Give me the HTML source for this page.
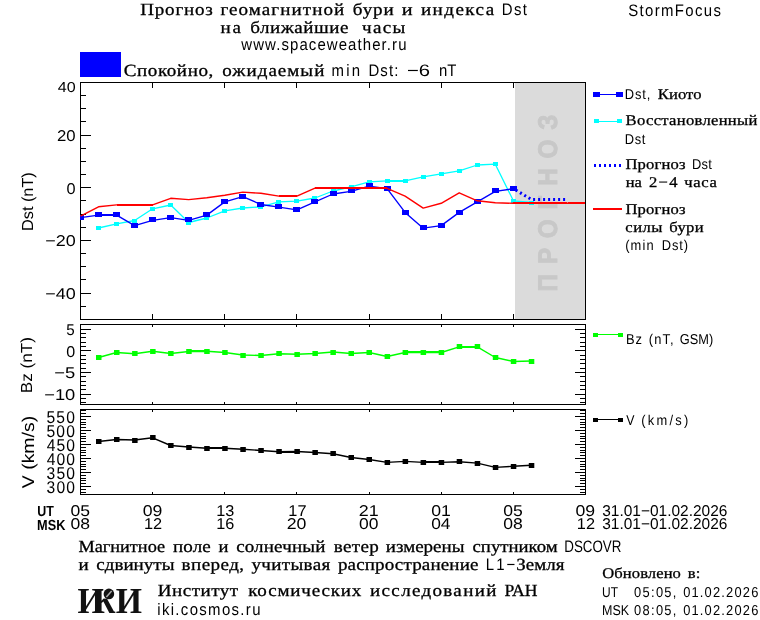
<!DOCTYPE html>
<html lang="ru">
<head>
<meta charset="utf-8">
<title>StormFocus — Прогноз геомагнитной бури и индекса Dst</title>
<style>
html,body{margin:0;padding:0;background:#fff;}
body{width:760px;height:620px;overflow:hidden;}
svg{display:block;text-rendering:geometricPrecision;}
</style>
</head>
<body>
<svg width="760" height="620" viewBox="0 0 760 620">
<rect x="0" y="0" width="760" height="620" fill="#ffffff"/>
<rect x="515" y="83" width="70.5" height="236" fill="#dbdbdb" shape-rendering="crispEdges"/>
<text transform="translate(556.80,291.38) rotate(-90) scale(0.9,1)" x="0" y="0" font-family='"Liberation Sans", "DejaVu Sans", sans-serif' font-size="27" font-weight="bold" fill="#c8c8c8" stroke="#c8c8c8" stroke-width="0.9" xml:space="preserve" textLength="196.65" lengthAdjust="spacing">ПРОГНОЗ</text>
<rect x="80" y="52" width="41" height="25" fill="#0000ff" shape-rendering="crispEdges"/>
<g shape-rendering="crispEdges">
<rect x="80.5" y="82.5" width="505.0" height="237.0" fill="none" stroke="#000" stroke-width="1"/>
<line x1="152.5" y1="82.5" x2="152.5" y2="88.0" stroke="#000" stroke-width="1"/>
<line x1="152.5" y1="319.5" x2="152.5" y2="314.0" stroke="#000" stroke-width="1"/>
<line x1="224.5" y1="82.5" x2="224.5" y2="88.0" stroke="#000" stroke-width="1"/>
<line x1="224.5" y1="319.5" x2="224.5" y2="314.0" stroke="#000" stroke-width="1"/>
<line x1="296.5" y1="82.5" x2="296.5" y2="88.0" stroke="#000" stroke-width="1"/>
<line x1="296.5" y1="319.5" x2="296.5" y2="314.0" stroke="#000" stroke-width="1"/>
<line x1="369.5" y1="82.5" x2="369.5" y2="88.0" stroke="#000" stroke-width="1"/>
<line x1="369.5" y1="319.5" x2="369.5" y2="314.0" stroke="#000" stroke-width="1"/>
<line x1="441.5" y1="82.5" x2="441.5" y2="88.0" stroke="#000" stroke-width="1"/>
<line x1="441.5" y1="319.5" x2="441.5" y2="314.0" stroke="#000" stroke-width="1"/>
<line x1="513.5" y1="82.5" x2="513.5" y2="88.0" stroke="#000" stroke-width="1"/>
<line x1="513.5" y1="319.5" x2="513.5" y2="314.0" stroke="#000" stroke-width="1"/>
<rect x="80.5" y="324.5" width="505.0" height="80.0" fill="none" stroke="#000" stroke-width="1"/>
<line x1="152.5" y1="324.5" x2="152.5" y2="327.0" stroke="#000" stroke-width="1"/>
<line x1="152.5" y1="404.5" x2="152.5" y2="402.0" stroke="#000" stroke-width="1"/>
<line x1="224.5" y1="324.5" x2="224.5" y2="327.0" stroke="#000" stroke-width="1"/>
<line x1="224.5" y1="404.5" x2="224.5" y2="402.0" stroke="#000" stroke-width="1"/>
<line x1="296.5" y1="324.5" x2="296.5" y2="327.0" stroke="#000" stroke-width="1"/>
<line x1="296.5" y1="404.5" x2="296.5" y2="402.0" stroke="#000" stroke-width="1"/>
<line x1="369.5" y1="324.5" x2="369.5" y2="327.0" stroke="#000" stroke-width="1"/>
<line x1="369.5" y1="404.5" x2="369.5" y2="402.0" stroke="#000" stroke-width="1"/>
<line x1="441.5" y1="324.5" x2="441.5" y2="327.0" stroke="#000" stroke-width="1"/>
<line x1="441.5" y1="404.5" x2="441.5" y2="402.0" stroke="#000" stroke-width="1"/>
<line x1="513.5" y1="324.5" x2="513.5" y2="327.0" stroke="#000" stroke-width="1"/>
<line x1="513.5" y1="404.5" x2="513.5" y2="402.0" stroke="#000" stroke-width="1"/>
<rect x="80.5" y="409.5" width="505.0" height="85.0" fill="none" stroke="#000" stroke-width="1"/>
<line x1="152.5" y1="409.5" x2="152.5" y2="412.0" stroke="#000" stroke-width="1"/>
<line x1="152.5" y1="494.5" x2="152.5" y2="492.0" stroke="#000" stroke-width="1"/>
<line x1="224.5" y1="409.5" x2="224.5" y2="412.0" stroke="#000" stroke-width="1"/>
<line x1="224.5" y1="494.5" x2="224.5" y2="492.0" stroke="#000" stroke-width="1"/>
<line x1="296.5" y1="409.5" x2="296.5" y2="412.0" stroke="#000" stroke-width="1"/>
<line x1="296.5" y1="494.5" x2="296.5" y2="492.0" stroke="#000" stroke-width="1"/>
<line x1="369.5" y1="409.5" x2="369.5" y2="412.0" stroke="#000" stroke-width="1"/>
<line x1="369.5" y1="494.5" x2="369.5" y2="492.0" stroke="#000" stroke-width="1"/>
<line x1="441.5" y1="409.5" x2="441.5" y2="412.0" stroke="#000" stroke-width="1"/>
<line x1="441.5" y1="494.5" x2="441.5" y2="492.0" stroke="#000" stroke-width="1"/>
<line x1="513.5" y1="409.5" x2="513.5" y2="412.0" stroke="#000" stroke-width="1"/>
<line x1="513.5" y1="494.5" x2="513.5" y2="492.0" stroke="#000" stroke-width="1"/>
<line x1="80.5" y1="306.5" x2="86.0" y2="306.5" stroke="#000" stroke-width="1"/>
<line x1="80.5" y1="293.5" x2="91.0" y2="293.5" stroke="#000" stroke-width="1"/>
<line x1="80.5" y1="279.5" x2="86.0" y2="279.5" stroke="#000" stroke-width="1"/>
<line x1="80.5" y1="266.5" x2="86.0" y2="266.5" stroke="#000" stroke-width="1"/>
<line x1="80.5" y1="253.5" x2="86.0" y2="253.5" stroke="#000" stroke-width="1"/>
<line x1="80.5" y1="240.5" x2="91.0" y2="240.5" stroke="#000" stroke-width="1"/>
<line x1="80.5" y1="227.5" x2="86.0" y2="227.5" stroke="#000" stroke-width="1"/>
<line x1="80.5" y1="214.5" x2="86.0" y2="214.5" stroke="#000" stroke-width="1"/>
<line x1="80.5" y1="200.5" x2="86.0" y2="200.5" stroke="#000" stroke-width="1"/>
<line x1="80.5" y1="187.5" x2="91.0" y2="187.5" stroke="#000" stroke-width="1"/>
<line x1="80.5" y1="174.5" x2="86.0" y2="174.5" stroke="#000" stroke-width="1"/>
<line x1="80.5" y1="161.5" x2="86.0" y2="161.5" stroke="#000" stroke-width="1"/>
<line x1="80.5" y1="148.5" x2="86.0" y2="148.5" stroke="#000" stroke-width="1"/>
<line x1="80.5" y1="135.5" x2="91.0" y2="135.5" stroke="#000" stroke-width="1"/>
<line x1="80.5" y1="121.5" x2="86.0" y2="121.5" stroke="#000" stroke-width="1"/>
<line x1="80.5" y1="108.5" x2="86.0" y2="108.5" stroke="#000" stroke-width="1"/>
<line x1="80.5" y1="95.5" x2="86.0" y2="95.5" stroke="#000" stroke-width="1"/>
<line x1="80.5" y1="402.5" x2="86.0" y2="402.5" stroke="#000" stroke-width="1"/>
<line x1="585.5" y1="402.5" x2="580.0" y2="402.5" stroke="#000" stroke-width="1"/>
<line x1="80.5" y1="398.5" x2="86.0" y2="398.5" stroke="#000" stroke-width="1"/>
<line x1="585.5" y1="398.5" x2="580.0" y2="398.5" stroke="#000" stroke-width="1"/>
<line x1="80.5" y1="394.5" x2="91.0" y2="394.5" stroke="#000" stroke-width="1"/>
<line x1="585.5" y1="394.5" x2="575.0" y2="394.5" stroke="#000" stroke-width="1"/>
<line x1="80.5" y1="389.5" x2="86.0" y2="389.5" stroke="#000" stroke-width="1"/>
<line x1="585.5" y1="389.5" x2="580.0" y2="389.5" stroke="#000" stroke-width="1"/>
<line x1="80.5" y1="385.5" x2="86.0" y2="385.5" stroke="#000" stroke-width="1"/>
<line x1="585.5" y1="385.5" x2="580.0" y2="385.5" stroke="#000" stroke-width="1"/>
<line x1="80.5" y1="381.5" x2="86.0" y2="381.5" stroke="#000" stroke-width="1"/>
<line x1="585.5" y1="381.5" x2="580.0" y2="381.5" stroke="#000" stroke-width="1"/>
<line x1="80.5" y1="376.5" x2="86.0" y2="376.5" stroke="#000" stroke-width="1"/>
<line x1="585.5" y1="376.5" x2="580.0" y2="376.5" stroke="#000" stroke-width="1"/>
<line x1="80.5" y1="372.5" x2="91.0" y2="372.5" stroke="#000" stroke-width="1"/>
<line x1="585.5" y1="372.5" x2="575.0" y2="372.5" stroke="#000" stroke-width="1"/>
<line x1="80.5" y1="368.5" x2="86.0" y2="368.5" stroke="#000" stroke-width="1"/>
<line x1="585.5" y1="368.5" x2="580.0" y2="368.5" stroke="#000" stroke-width="1"/>
<line x1="80.5" y1="363.5" x2="86.0" y2="363.5" stroke="#000" stroke-width="1"/>
<line x1="585.5" y1="363.5" x2="580.0" y2="363.5" stroke="#000" stroke-width="1"/>
<line x1="80.5" y1="359.5" x2="86.0" y2="359.5" stroke="#000" stroke-width="1"/>
<line x1="585.5" y1="359.5" x2="580.0" y2="359.5" stroke="#000" stroke-width="1"/>
<line x1="80.5" y1="355.5" x2="86.0" y2="355.5" stroke="#000" stroke-width="1"/>
<line x1="585.5" y1="355.5" x2="580.0" y2="355.5" stroke="#000" stroke-width="1"/>
<line x1="80.5" y1="350.5" x2="91.0" y2="350.5" stroke="#000" stroke-width="1"/>
<line x1="585.5" y1="350.5" x2="575.0" y2="350.5" stroke="#000" stroke-width="1"/>
<line x1="80.5" y1="346.5" x2="86.0" y2="346.5" stroke="#000" stroke-width="1"/>
<line x1="585.5" y1="346.5" x2="580.0" y2="346.5" stroke="#000" stroke-width="1"/>
<line x1="80.5" y1="342.5" x2="86.0" y2="342.5" stroke="#000" stroke-width="1"/>
<line x1="585.5" y1="342.5" x2="580.0" y2="342.5" stroke="#000" stroke-width="1"/>
<line x1="80.5" y1="337.5" x2="86.0" y2="337.5" stroke="#000" stroke-width="1"/>
<line x1="585.5" y1="337.5" x2="580.0" y2="337.5" stroke="#000" stroke-width="1"/>
<line x1="80.5" y1="333.5" x2="86.0" y2="333.5" stroke="#000" stroke-width="1"/>
<line x1="585.5" y1="333.5" x2="580.0" y2="333.5" stroke="#000" stroke-width="1"/>
<line x1="80.5" y1="329.5" x2="91.0" y2="329.5" stroke="#000" stroke-width="1"/>
<line x1="585.5" y1="329.5" x2="575.0" y2="329.5" stroke="#000" stroke-width="1"/>
<line x1="80.5" y1="492.5" x2="86.0" y2="492.5" stroke="#000" stroke-width="1"/>
<line x1="585.5" y1="492.5" x2="580.0" y2="492.5" stroke="#000" stroke-width="1"/>
<line x1="80.5" y1="489.5" x2="86.0" y2="489.5" stroke="#000" stroke-width="1"/>
<line x1="585.5" y1="489.5" x2="580.0" y2="489.5" stroke="#000" stroke-width="1"/>
<line x1="80.5" y1="486.5" x2="91.0" y2="486.5" stroke="#000" stroke-width="1"/>
<line x1="585.5" y1="486.5" x2="575.0" y2="486.5" stroke="#000" stroke-width="1"/>
<line x1="80.5" y1="483.5" x2="86.0" y2="483.5" stroke="#000" stroke-width="1"/>
<line x1="585.5" y1="483.5" x2="580.0" y2="483.5" stroke="#000" stroke-width="1"/>
<line x1="80.5" y1="480.5" x2="86.0" y2="480.5" stroke="#000" stroke-width="1"/>
<line x1="585.5" y1="480.5" x2="580.0" y2="480.5" stroke="#000" stroke-width="1"/>
<line x1="80.5" y1="478.5" x2="86.0" y2="478.5" stroke="#000" stroke-width="1"/>
<line x1="585.5" y1="478.5" x2="580.0" y2="478.5" stroke="#000" stroke-width="1"/>
<line x1="80.5" y1="475.5" x2="86.0" y2="475.5" stroke="#000" stroke-width="1"/>
<line x1="585.5" y1="475.5" x2="580.0" y2="475.5" stroke="#000" stroke-width="1"/>
<line x1="80.5" y1="472.5" x2="91.0" y2="472.5" stroke="#000" stroke-width="1"/>
<line x1="585.5" y1="472.5" x2="575.0" y2="472.5" stroke="#000" stroke-width="1"/>
<line x1="80.5" y1="469.5" x2="86.0" y2="469.5" stroke="#000" stroke-width="1"/>
<line x1="585.5" y1="469.5" x2="580.0" y2="469.5" stroke="#000" stroke-width="1"/>
<line x1="80.5" y1="466.5" x2="86.0" y2="466.5" stroke="#000" stroke-width="1"/>
<line x1="585.5" y1="466.5" x2="580.0" y2="466.5" stroke="#000" stroke-width="1"/>
<line x1="80.5" y1="464.5" x2="86.0" y2="464.5" stroke="#000" stroke-width="1"/>
<line x1="585.5" y1="464.5" x2="580.0" y2="464.5" stroke="#000" stroke-width="1"/>
<line x1="80.5" y1="461.5" x2="86.0" y2="461.5" stroke="#000" stroke-width="1"/>
<line x1="585.5" y1="461.5" x2="580.0" y2="461.5" stroke="#000" stroke-width="1"/>
<line x1="80.5" y1="458.5" x2="91.0" y2="458.5" stroke="#000" stroke-width="1"/>
<line x1="585.5" y1="458.5" x2="575.0" y2="458.5" stroke="#000" stroke-width="1"/>
<line x1="80.5" y1="455.5" x2="86.0" y2="455.5" stroke="#000" stroke-width="1"/>
<line x1="585.5" y1="455.5" x2="580.0" y2="455.5" stroke="#000" stroke-width="1"/>
<line x1="80.5" y1="452.5" x2="86.0" y2="452.5" stroke="#000" stroke-width="1"/>
<line x1="585.5" y1="452.5" x2="580.0" y2="452.5" stroke="#000" stroke-width="1"/>
<line x1="80.5" y1="450.5" x2="86.0" y2="450.5" stroke="#000" stroke-width="1"/>
<line x1="585.5" y1="450.5" x2="580.0" y2="450.5" stroke="#000" stroke-width="1"/>
<line x1="80.5" y1="447.5" x2="86.0" y2="447.5" stroke="#000" stroke-width="1"/>
<line x1="585.5" y1="447.5" x2="580.0" y2="447.5" stroke="#000" stroke-width="1"/>
<line x1="80.5" y1="444.5" x2="91.0" y2="444.5" stroke="#000" stroke-width="1"/>
<line x1="585.5" y1="444.5" x2="575.0" y2="444.5" stroke="#000" stroke-width="1"/>
<line x1="80.5" y1="441.5" x2="86.0" y2="441.5" stroke="#000" stroke-width="1"/>
<line x1="585.5" y1="441.5" x2="580.0" y2="441.5" stroke="#000" stroke-width="1"/>
<line x1="80.5" y1="438.5" x2="86.0" y2="438.5" stroke="#000" stroke-width="1"/>
<line x1="585.5" y1="438.5" x2="580.0" y2="438.5" stroke="#000" stroke-width="1"/>
<line x1="80.5" y1="436.5" x2="86.0" y2="436.5" stroke="#000" stroke-width="1"/>
<line x1="585.5" y1="436.5" x2="580.0" y2="436.5" stroke="#000" stroke-width="1"/>
<line x1="80.5" y1="433.5" x2="86.0" y2="433.5" stroke="#000" stroke-width="1"/>
<line x1="585.5" y1="433.5" x2="580.0" y2="433.5" stroke="#000" stroke-width="1"/>
<line x1="80.5" y1="430.5" x2="91.0" y2="430.5" stroke="#000" stroke-width="1"/>
<line x1="585.5" y1="430.5" x2="575.0" y2="430.5" stroke="#000" stroke-width="1"/>
<line x1="80.5" y1="427.5" x2="86.0" y2="427.5" stroke="#000" stroke-width="1"/>
<line x1="585.5" y1="427.5" x2="580.0" y2="427.5" stroke="#000" stroke-width="1"/>
<line x1="80.5" y1="424.5" x2="86.0" y2="424.5" stroke="#000" stroke-width="1"/>
<line x1="585.5" y1="424.5" x2="580.0" y2="424.5" stroke="#000" stroke-width="1"/>
<line x1="80.5" y1="422.5" x2="86.0" y2="422.5" stroke="#000" stroke-width="1"/>
<line x1="585.5" y1="422.5" x2="580.0" y2="422.5" stroke="#000" stroke-width="1"/>
<line x1="80.5" y1="419.5" x2="86.0" y2="419.5" stroke="#000" stroke-width="1"/>
<line x1="585.5" y1="419.5" x2="580.0" y2="419.5" stroke="#000" stroke-width="1"/>
<line x1="80.5" y1="416.5" x2="91.0" y2="416.5" stroke="#000" stroke-width="1"/>
<line x1="585.5" y1="416.5" x2="575.0" y2="416.5" stroke="#000" stroke-width="1"/>
<line x1="80.5" y1="413.5" x2="86.0" y2="413.5" stroke="#000" stroke-width="1"/>
<line x1="585.5" y1="413.5" x2="580.0" y2="413.5" stroke="#000" stroke-width="1"/>
<line x1="80.5" y1="410.5" x2="86.0" y2="410.5" stroke="#000" stroke-width="1"/>
<line x1="585.5" y1="410.5" x2="580.0" y2="410.5" stroke="#000" stroke-width="1"/>
</g>
<clipPath id="cd"><rect x="80" y="82" width="505" height="238"/></clipPath>
<clipPath id="cb"><rect x="80" y="324" width="505" height="81"/></clipPath>
<clipPath id="cv"><rect x="80" y="409" width="505" height="86"/></clipPath>
<g clip-path="url(#cd)">
<polyline points="98.5,228.0 116.6,223.8 134.6,220.5 152.6,208.8 170.7,205.0 188.7,222.5 206.8,218.0 224.8,210.8 242.8,208.0 260.9,206.8 278.9,201.8 296.9,201.2 315.0,198.0 333.0,191.0 351.0,186.8 369.1,181.8 387.1,180.8 405.1,180.8 423.2,176.8 441.2,173.8 459.2,170.8 477.3,165.0 495.3,164.2 513.4,200.8 531.4,202.5" fill="none" stroke="#00ffff" stroke-width="1.3" stroke-linejoin="round"/>
<rect x="387.1" y="180" width="18.0" height="2" fill="#00ffff" shape-rendering="crispEdges"/>
<rect x="96" y="226" width="5" height="4" fill="#00ffff" shape-rendering="crispEdges"/>
<rect x="114" y="222" width="5" height="4" fill="#00ffff" shape-rendering="crispEdges"/>
<rect x="132" y="219" width="5" height="4" fill="#00ffff" shape-rendering="crispEdges"/>
<rect x="150" y="207" width="5" height="4" fill="#00ffff" shape-rendering="crispEdges"/>
<rect x="168" y="203" width="5" height="4" fill="#00ffff" shape-rendering="crispEdges"/>
<rect x="186" y="221" width="5" height="4" fill="#00ffff" shape-rendering="crispEdges"/>
<rect x="204" y="216" width="5" height="4" fill="#00ffff" shape-rendering="crispEdges"/>
<rect x="222" y="209" width="5" height="4" fill="#00ffff" shape-rendering="crispEdges"/>
<rect x="240" y="206" width="5" height="4" fill="#00ffff" shape-rendering="crispEdges"/>
<rect x="258" y="205" width="5" height="4" fill="#00ffff" shape-rendering="crispEdges"/>
<rect x="276" y="200" width="5" height="4" fill="#00ffff" shape-rendering="crispEdges"/>
<rect x="294" y="199" width="5" height="4" fill="#00ffff" shape-rendering="crispEdges"/>
<rect x="312" y="196" width="5" height="4" fill="#00ffff" shape-rendering="crispEdges"/>
<rect x="331" y="189" width="5" height="4" fill="#00ffff" shape-rendering="crispEdges"/>
<rect x="349" y="185" width="5" height="4" fill="#00ffff" shape-rendering="crispEdges"/>
<rect x="367" y="180" width="5" height="4" fill="#00ffff" shape-rendering="crispEdges"/>
<rect x="385" y="179" width="5" height="4" fill="#00ffff" shape-rendering="crispEdges"/>
<rect x="403" y="179" width="5" height="4" fill="#00ffff" shape-rendering="crispEdges"/>
<rect x="421" y="175" width="5" height="4" fill="#00ffff" shape-rendering="crispEdges"/>
<rect x="439" y="172" width="5" height="4" fill="#00ffff" shape-rendering="crispEdges"/>
<rect x="457" y="169" width="5" height="4" fill="#00ffff" shape-rendering="crispEdges"/>
<rect x="475" y="163" width="5" height="4" fill="#00ffff" shape-rendering="crispEdges"/>
<rect x="493" y="162" width="5" height="4" fill="#00ffff" shape-rendering="crispEdges"/>
<rect x="511" y="199" width="5" height="4" fill="#00ffff" shape-rendering="crispEdges"/>
<rect x="529" y="201" width="5" height="4" fill="#00ffff" shape-rendering="crispEdges"/>
<polyline points="80.5,217.7 98.5,215.1 116.6,215.1 134.6,225.6 152.6,220.3 170.7,217.7 188.7,220.3 206.8,215.1 224.8,201.9 242.8,196.6 260.9,204.5 278.9,207.2 296.9,209.8 315.0,201.9 333.0,194.0 351.0,191.4 369.1,186.1 387.1,188.7 405.1,212.4 423.2,228.2 441.2,225.6 459.2,212.4 477.3,201.9 495.3,191.4 513.4,188.7" fill="none" stroke="#0000ff" stroke-width="1.35" stroke-linejoin="round"/>
<rect x="98.5" y="214" width="18.0" height="2" fill="#0000ff" shape-rendering="crispEdges"/>
<rect x="77" y="215" width="7" height="5" fill="#0000ff" shape-rendering="crispEdges"/>
<rect x="95" y="212" width="7" height="5" fill="#0000ff" shape-rendering="crispEdges"/>
<rect x="113" y="212" width="7" height="5" fill="#0000ff" shape-rendering="crispEdges"/>
<rect x="131" y="223" width="7" height="5" fill="#0000ff" shape-rendering="crispEdges"/>
<rect x="149" y="217" width="7" height="5" fill="#0000ff" shape-rendering="crispEdges"/>
<rect x="167" y="215" width="7" height="5" fill="#0000ff" shape-rendering="crispEdges"/>
<rect x="185" y="217" width="7" height="5" fill="#0000ff" shape-rendering="crispEdges"/>
<rect x="203" y="212" width="7" height="5" fill="#0000ff" shape-rendering="crispEdges"/>
<rect x="221" y="199" width="7" height="5" fill="#0000ff" shape-rendering="crispEdges"/>
<rect x="239" y="194" width="7" height="5" fill="#0000ff" shape-rendering="crispEdges"/>
<rect x="257" y="202" width="7" height="5" fill="#0000ff" shape-rendering="crispEdges"/>
<rect x="275" y="204" width="7" height="5" fill="#0000ff" shape-rendering="crispEdges"/>
<rect x="293" y="207" width="7" height="5" fill="#0000ff" shape-rendering="crispEdges"/>
<rect x="311" y="199" width="7" height="5" fill="#0000ff" shape-rendering="crispEdges"/>
<rect x="330" y="191" width="7" height="5" fill="#0000ff" shape-rendering="crispEdges"/>
<rect x="348" y="188" width="7" height="5" fill="#0000ff" shape-rendering="crispEdges"/>
<rect x="366" y="183" width="7" height="5" fill="#0000ff" shape-rendering="crispEdges"/>
<rect x="384" y="186" width="7" height="5" fill="#0000ff" shape-rendering="crispEdges"/>
<rect x="402" y="210" width="7" height="5" fill="#0000ff" shape-rendering="crispEdges"/>
<rect x="420" y="225" width="7" height="5" fill="#0000ff" shape-rendering="crispEdges"/>
<rect x="438" y="223" width="7" height="5" fill="#0000ff" shape-rendering="crispEdges"/>
<rect x="456" y="210" width="7" height="5" fill="#0000ff" shape-rendering="crispEdges"/>
<rect x="474" y="199" width="7" height="5" fill="#0000ff" shape-rendering="crispEdges"/>
<rect x="492" y="188" width="7" height="5" fill="#0000ff" shape-rendering="crispEdges"/>
<rect x="510" y="186" width="7" height="5" fill="#0000ff" shape-rendering="crispEdges"/>
<polyline points="513.4,188.6 531.4,199.5 565.2,199.5" fill="none" stroke="#0000ff" stroke-width="3" stroke-dasharray="2 3" stroke-dashoffset="2.26"/>
<polyline points="80.5,216.1 98.5,206.8 116.6,204.9 134.6,204.6 152.6,204.8 170.7,198.3 188.7,199.6 206.8,197.8 224.8,195.3 242.8,192.1 260.9,193.3 278.9,196.1 296.9,196.1 315.0,188.1 333.0,188.1 351.0,188.1 369.1,188.1 387.1,188.3 405.1,196.1 423.2,208.1 441.2,203.3 459.2,192.8 477.3,200.8 495.3,202.8 513.4,203.3 531.4,203.3 549.4,203.3 567.5,203.3 585.5,203.3" fill="none" stroke="#ff0000" stroke-width="1.4" stroke-linejoin="round"/>
<rect x="116.6" y="204" width="18.0" height="2" fill="#ff0000" shape-rendering="crispEdges"/>
<rect x="134.6" y="204" width="18.0" height="2" fill="#ff0000" shape-rendering="crispEdges"/>
<rect x="278.9" y="195" width="18.0" height="2" fill="#ff0000" shape-rendering="crispEdges"/>
<rect x="315.0" y="187" width="18.0" height="2" fill="#ff0000" shape-rendering="crispEdges"/>
<rect x="333.0" y="187" width="18.0" height="2" fill="#ff0000" shape-rendering="crispEdges"/>
<rect x="351.0" y="187" width="18.0" height="2" fill="#ff0000" shape-rendering="crispEdges"/>
<rect x="369.1" y="187" width="18.0" height="2" fill="#ff0000" shape-rendering="crispEdges"/>
<rect x="513.4" y="202" width="18.0" height="2" fill="#ff0000" shape-rendering="crispEdges"/>
<rect x="531.4" y="202" width="18.0" height="2" fill="#ff0000" shape-rendering="crispEdges"/>
<rect x="549.4" y="202" width="18.0" height="2" fill="#ff0000" shape-rendering="crispEdges"/>
<rect x="567.5" y="202" width="18.0" height="2" fill="#ff0000" shape-rendering="crispEdges"/>
</g>
<g clip-path="url(#cb)">
<polyline points="98.5,357.5 116.6,352.5 134.6,353.8 152.6,351.2 170.7,353.5 188.7,351.5 206.8,351.2 224.8,352.5 242.8,355.0 260.9,355.5 278.9,353.8 296.9,354.2 315.0,353.5 333.0,352.0 351.0,353.5 369.1,352.5 387.1,356.5 405.1,352.5 423.2,352.5 441.2,352.5 459.2,346.8 477.3,346.8 495.3,357.5 513.4,361.5 531.4,361.0" fill="none" stroke="#00ff00" stroke-width="1.4" stroke-linejoin="round"/>
<rect x="188.7" y="350" width="18.0" height="2" fill="#00ff00" shape-rendering="crispEdges"/>
<rect x="405.1" y="351" width="18.0" height="2" fill="#00ff00" shape-rendering="crispEdges"/>
<rect x="423.2" y="351" width="18.0" height="2" fill="#00ff00" shape-rendering="crispEdges"/>
<rect x="459.2" y="346" width="18.0" height="2" fill="#00ff00" shape-rendering="crispEdges"/>
<rect x="96.0" y="355" width="5.5" height="5" fill="#00ff00"/>
<rect x="114.0" y="350" width="5.5" height="5" fill="#00ff00"/>
<rect x="132.1" y="351" width="5.5" height="5" fill="#00ff00"/>
<rect x="150.1" y="349" width="5.5" height="5" fill="#00ff00"/>
<rect x="168.1" y="351" width="5.5" height="5" fill="#00ff00"/>
<rect x="186.2" y="349" width="5.5" height="5" fill="#00ff00"/>
<rect x="204.2" y="349" width="5.5" height="5" fill="#00ff00"/>
<rect x="222.2" y="350" width="5.5" height="5" fill="#00ff00"/>
<rect x="240.3" y="353" width="5.5" height="5" fill="#00ff00"/>
<rect x="258.3" y="353" width="5.5" height="5" fill="#00ff00"/>
<rect x="276.3" y="351" width="5.5" height="5" fill="#00ff00"/>
<rect x="294.4" y="352" width="5.5" height="5" fill="#00ff00"/>
<rect x="312.4" y="351" width="5.5" height="5" fill="#00ff00"/>
<rect x="330.4" y="350" width="5.5" height="5" fill="#00ff00"/>
<rect x="348.5" y="351" width="5.5" height="5" fill="#00ff00"/>
<rect x="366.5" y="350" width="5.5" height="5" fill="#00ff00"/>
<rect x="384.6" y="354" width="5.5" height="5" fill="#00ff00"/>
<rect x="402.6" y="350" width="5.5" height="5" fill="#00ff00"/>
<rect x="420.6" y="350" width="5.5" height="5" fill="#00ff00"/>
<rect x="438.7" y="350" width="5.5" height="5" fill="#00ff00"/>
<rect x="456.7" y="344" width="5.5" height="5" fill="#00ff00"/>
<rect x="474.7" y="344" width="5.5" height="5" fill="#00ff00"/>
<rect x="492.8" y="355" width="5.5" height="5" fill="#00ff00"/>
<rect x="510.8" y="359" width="5.5" height="5" fill="#00ff00"/>
<rect x="528.8" y="359" width="5.5" height="5" fill="#00ff00"/>
</g>
<g clip-path="url(#cv)">
<polyline points="98.5,441.5 116.6,439.5 134.6,440.0 152.6,437.8 170.7,445.5 188.7,447.0 206.8,448.2 224.8,448.2 242.8,449.2 260.9,450.5 278.9,451.8 296.9,451.5 315.0,452.5 333.0,453.8 351.0,457.5 369.1,459.5 387.1,462.4 405.1,461.4 423.2,462.4 441.2,462.4 459.2,461.8 477.3,463.1 495.3,467.4 513.4,466.3 531.4,465.2" fill="none" stroke="#000" stroke-width="1.4" stroke-linejoin="round"/>
<rect x="206.8" y="447" width="18.0" height="2" fill="#000" shape-rendering="crispEdges"/>
<rect x="278.9" y="451" width="18.0" height="2" fill="#000" shape-rendering="crispEdges"/>
<rect x="423.2" y="461" width="18.0" height="2" fill="#000" shape-rendering="crispEdges"/>
<rect x="96.0" y="439" width="5.5" height="5" fill="#000"/>
<rect x="114.0" y="437" width="5.5" height="5" fill="#000"/>
<rect x="132.1" y="438" width="5.5" height="5" fill="#000"/>
<rect x="150.1" y="435" width="5.5" height="5" fill="#000"/>
<rect x="168.1" y="443" width="5.5" height="5" fill="#000"/>
<rect x="186.2" y="445" width="5.5" height="5" fill="#000"/>
<rect x="204.2" y="446" width="5.5" height="5" fill="#000"/>
<rect x="222.2" y="446" width="5.5" height="5" fill="#000"/>
<rect x="240.3" y="447" width="5.5" height="5" fill="#000"/>
<rect x="258.3" y="448" width="5.5" height="5" fill="#000"/>
<rect x="276.3" y="449" width="5.5" height="5" fill="#000"/>
<rect x="294.4" y="449" width="5.5" height="5" fill="#000"/>
<rect x="312.4" y="450" width="5.5" height="5" fill="#000"/>
<rect x="330.4" y="451" width="5.5" height="5" fill="#000"/>
<rect x="348.5" y="455" width="5.5" height="5" fill="#000"/>
<rect x="366.5" y="457" width="5.5" height="5" fill="#000"/>
<rect x="384.6" y="460" width="5.5" height="5" fill="#000"/>
<rect x="402.6" y="459" width="5.5" height="5" fill="#000"/>
<rect x="420.6" y="460" width="5.5" height="5" fill="#000"/>
<rect x="438.7" y="460" width="5.5" height="5" fill="#000"/>
<rect x="456.7" y="459" width="5.5" height="5" fill="#000"/>
<rect x="474.7" y="461" width="5.5" height="5" fill="#000"/>
<rect x="492.8" y="465" width="5.5" height="5" fill="#000"/>
<rect x="510.8" y="464" width="5.5" height="5" fill="#000"/>
<rect x="528.8" y="463" width="5.5" height="5" fill="#000"/>
</g>
<text transform="translate(140.32,15.30) scale(1.12,1)" font-family='"Liberation Serif", "DejaVu Serif", serif' font-size="17.0" font-weight="normal" fill="#000" stroke="#000" stroke-width="0.3" xml:space="preserve" textLength="64.69" lengthAdjust="spacing">Прогноз</text>
<text transform="translate(220.51,15.30) scale(1.12,1)" font-family='"Liberation Serif", "DejaVu Serif", serif' font-size="17.0" font-weight="normal" fill="#000" stroke="#000" stroke-width="0.3" xml:space="preserve" textLength="110.42" lengthAdjust="spacing">геомагнитной</text>
<text transform="translate(352.84,15.30) scale(1.12,1)" font-family='"Liberation Serif", "DejaVu Serif", serif' font-size="17.0" font-weight="normal" fill="#000" stroke="#000" stroke-width="0.3" xml:space="preserve" textLength="36.38" lengthAdjust="spacing">бури</text>
<text transform="translate(401.80,15.30) scale(1.1882,1)" font-family='"Liberation Serif", "DejaVu Serif", serif' font-size="17.0" font-weight="normal" fill="#000" stroke="#000" stroke-width="0.3" xml:space="preserve">и</text>
<text transform="translate(420.91,15.30) scale(1.12,1)" font-family='"Liberation Serif", "DejaVu Serif", serif' font-size="17.0" font-weight="normal" fill="#000" stroke="#000" stroke-width="0.3" xml:space="preserve" textLength="65.49" lengthAdjust="spacing">индекса</text>
<text transform="translate(501.80,15.30) scale(0.9,1)" font-family='"Liberation Sans", "DejaVu Sans", sans-serif' font-size="16.6" font-weight="normal" fill="#000" xml:space="preserve" textLength="28.04" lengthAdjust="spacing">Dst</text>
<text transform="translate(220.51,32.80) scale(1.12,1)" font-family='"Liberation Serif", "DejaVu Serif", serif' font-size="17.0" font-weight="normal" fill="#000" stroke="#000" stroke-width="0.3" xml:space="preserve" textLength="18.26" lengthAdjust="spacing">на</text>
<text transform="translate(250.14,32.80) scale(1.12,1)" font-family='"Liberation Serif", "DejaVu Serif", serif' font-size="17.0" font-weight="normal" fill="#000" stroke="#000" stroke-width="0.3" xml:space="preserve" textLength="87.77" lengthAdjust="spacing">ближайшие</text>
<text transform="translate(361.91,32.80) scale(1.12,1)" font-family='"Liberation Serif", "DejaVu Serif", serif' font-size="17.0" font-weight="normal" fill="#000" stroke="#000" stroke-width="0.3" xml:space="preserve" textLength="38.84" lengthAdjust="spacing">часы</text>
<text transform="translate(241.37,50.00) scale(0.9,1)" font-family='"Liberation Sans", "DejaVu Sans", sans-serif' font-size="16.6" font-weight="normal" fill="#000" xml:space="preserve" textLength="183.46" lengthAdjust="spacing">www.spaceweather.ru</text>
<text transform="translate(628.13,15.50) scale(0.9,1)" font-family='"Liberation Sans", "DejaVu Sans", sans-serif' font-size="16.6" font-weight="normal" fill="#000" xml:space="preserve" textLength="103.22" lengthAdjust="spacing">StormFocus</text>
<text transform="translate(123.84,76.40) scale(1.12,1)" font-family='"Liberation Serif", "DejaVu Serif", serif' font-size="17.0" font-weight="normal" fill="#000" stroke="#000" stroke-width="0.3" xml:space="preserve" textLength="79.82" lengthAdjust="spacing">Спокойно,</text>
<text transform="translate(222.23,76.40) scale(1.12,1)" font-family='"Liberation Serif", "DejaVu Serif", serif' font-size="17.0" font-weight="normal" fill="#000" stroke="#000" stroke-width="0.3" xml:space="preserve" textLength="91.21" lengthAdjust="spacing">ожидаемый</text>
<text transform="translate(331.53,76.40) scale(0.9,1)" font-family='"Liberation Sans", "DejaVu Sans", sans-serif' font-size="16.6" font-weight="normal" fill="#000" xml:space="preserve" textLength="31.76" lengthAdjust="spacing">min</text>
<text transform="translate(368.50,76.40) scale(0.9,1)" font-family='"Liberation Sans", "DejaVu Sans", sans-serif' font-size="16.6" font-weight="normal" fill="#000" xml:space="preserve" textLength="33.12" lengthAdjust="spacing">Dst:</text>
<text transform="translate(406.99,76.40) scale(1.2231,1)" font-family='"Liberation Sans", "DejaVu Sans", sans-serif' font-size="16.6" font-weight="normal" fill="#000" xml:space="preserve">−6</text>
<text transform="translate(438.93,76.40) scale(0.8971,1)" font-family='"Liberation Sans", "DejaVu Sans", sans-serif' font-size="16.6" font-weight="normal" fill="#000" xml:space="preserve">nT</text>
<text transform="translate(57.68,92.00) scale(1.1178,1)" font-family='"Liberation Sans", "DejaVu Sans", sans-serif' font-size="14.4" font-weight="normal" fill="#000" xml:space="preserve">40</text>
<text transform="translate(56.96,141.00) scale(1.0745,1)" font-family='"Liberation Sans", "DejaVu Sans", sans-serif' font-size="15.6" font-weight="normal" fill="#000" xml:space="preserve">20</text>
<text transform="translate(66.53,194.00) scale(1.0441,1)" font-family='"Liberation Sans", "DejaVu Sans", sans-serif' font-size="15.6" font-weight="normal" fill="#000" xml:space="preserve">0</text>
<text transform="translate(45.19,246.00) scale(1.1510,1)" font-family='"Liberation Sans", "DejaVu Sans", sans-serif' font-size="15.6" font-weight="normal" fill="#000" xml:space="preserve">−20</text>
<text transform="translate(45.19,299.00) scale(1.1510,1)" font-family='"Liberation Sans", "DejaVu Sans", sans-serif' font-size="15.6" font-weight="normal" fill="#000" xml:space="preserve">−40</text>
<text transform="translate(66.29,335.00) scale(0.9717,1)" font-family='"Liberation Sans", "DejaVu Sans", sans-serif' font-size="15.6" font-weight="normal" fill="#000" xml:space="preserve">5</text>
<text transform="translate(66.24,357.00) scale(1.0309,1)" font-family='"Liberation Sans", "DejaVu Sans", sans-serif' font-size="15.6" font-weight="normal" fill="#000" xml:space="preserve">0</text>
<text transform="translate(54.37,378.00) scale(1.1799,1)" font-family='"Liberation Sans", "DejaVu Sans", sans-serif' font-size="15.6" font-weight="normal" fill="#000" xml:space="preserve">−5</text>
<text transform="translate(44.18,400.00) scale(1.1748,1)" font-family='"Liberation Sans", "DejaVu Sans", sans-serif' font-size="15.6" font-weight="normal" fill="#000" xml:space="preserve">−10</text>
<text transform="translate(46.47,423.00) scale(0.92,1)" font-family='"Liberation Sans", "DejaVu Sans", sans-serif' font-size="17" font-weight="normal" fill="#000" xml:space="preserve" textLength="30.97" lengthAdjust="spacing">550</text>
<text transform="translate(46.47,437.00) scale(0.92,1)" font-family='"Liberation Sans", "DejaVu Sans", sans-serif' font-size="17" font-weight="normal" fill="#000" xml:space="preserve" textLength="30.97" lengthAdjust="spacing">500</text>
<text transform="translate(46.79,451.00) scale(0.92,1)" font-family='"Liberation Sans", "DejaVu Sans", sans-serif' font-size="17" font-weight="normal" fill="#000" xml:space="preserve" textLength="30.63" lengthAdjust="spacing">450</text>
<text transform="translate(46.79,465.00) scale(0.92,1)" font-family='"Liberation Sans", "DejaVu Sans", sans-serif' font-size="17" font-weight="normal" fill="#000" xml:space="preserve" textLength="30.63" lengthAdjust="spacing">400</text>
<text transform="translate(46.55,479.00) scale(0.92,1)" font-family='"Liberation Sans", "DejaVu Sans", sans-serif' font-size="17" font-weight="normal" fill="#000" xml:space="preserve" textLength="30.88" lengthAdjust="spacing">350</text>
<text transform="translate(46.55,493.00) scale(0.92,1)" font-family='"Liberation Sans", "DejaVu Sans", sans-serif' font-size="17" font-weight="normal" fill="#000" xml:space="preserve" textLength="30.88" lengthAdjust="spacing">300</text>
<text transform="translate(33.20,231.00) rotate(-90)" x="0" y="0" font-family='"Liberation Sans", "DejaVu Sans", sans-serif' font-size="16" font-weight="normal" fill="#000" xml:space="preserve" textLength="58.75" lengthAdjust="spacingAndGlyphs">Dst (nT)</text>
<text transform="translate(31.60,393.17) rotate(-90)" x="0" y="0" font-family='"Liberation Sans", "DejaVu Sans", sans-serif' font-size="16" font-weight="normal" fill="#000" xml:space="preserve" textLength="56.06" lengthAdjust="spacingAndGlyphs">Bz (nT)</text>
<text transform="translate(34.20,488.20) rotate(-90)" x="0" y="0" font-family='"Liberation Sans", "DejaVu Sans", sans-serif' font-size="17" font-weight="normal" fill="#000" xml:space="preserve" textLength="72.33" lengthAdjust="spacingAndGlyphs">V (km/s)</text>
<text transform="translate(37.15,516.00) scale(0.8540,1)" font-family='"Liberation Sans", "DejaVu Sans", sans-serif' font-size="14.6" font-weight="bold" fill="#000" xml:space="preserve">UT</text>
<text transform="translate(37.07,530.00) scale(0.8729,1)" font-family='"Liberation Sans", "DejaVu Sans", sans-serif' font-size="14.6" font-weight="bold" fill="#000" xml:space="preserve">MSK</text>
<text transform="translate(70.49,516.00) scale(1.1260,1)" font-family='"Liberation Sans", "DejaVu Sans", sans-serif' font-size="15.6" font-weight="normal" fill="#000" xml:space="preserve">05</text>
<text transform="translate(70.49,529.00) scale(1.1260,1)" font-family='"Liberation Sans", "DejaVu Sans", sans-serif' font-size="15.6" font-weight="normal" fill="#000" xml:space="preserve">08</text>
<text transform="translate(142.63,516.00) scale(1.1314,1)" font-family='"Liberation Sans", "DejaVu Sans", sans-serif' font-size="15.6" font-weight="normal" fill="#000" xml:space="preserve">09</text>
<text transform="translate(144.02,529.00) scale(1.0477,1)" font-family='"Liberation Sans", "DejaVu Sans", sans-serif' font-size="15.6" font-weight="normal" fill="#000" xml:space="preserve">12</text>
<text transform="translate(216.17,516.00) scale(1.0425,1)" font-family='"Liberation Sans", "DejaVu Sans", sans-serif' font-size="15.6" font-weight="normal" fill="#000" xml:space="preserve">13</text>
<text transform="translate(216.17,529.00) scale(1.0425,1)" font-family='"Liberation Sans", "DejaVu Sans", sans-serif' font-size="15.6" font-weight="normal" fill="#000" xml:space="preserve">16</text>
<text transform="translate(288.30,516.00) scale(1.0477,1)" font-family='"Liberation Sans", "DejaVu Sans", sans-serif' font-size="15.6" font-weight="normal" fill="#000" xml:space="preserve">17</text>
<text transform="translate(286.64,529.00) scale(1.1369,1)" font-family='"Liberation Sans", "DejaVu Sans", sans-serif' font-size="15.6" font-weight="normal" fill="#000" xml:space="preserve">20</text>
<text transform="translate(358.78,516.00) scale(1.1481,1)" font-family='"Liberation Sans", "DejaVu Sans", sans-serif' font-size="15.6" font-weight="normal" fill="#000" xml:space="preserve">21</text>
<text transform="translate(359.06,529.00) scale(1.1206,1)" font-family='"Liberation Sans", "DejaVu Sans", sans-serif' font-size="15.6" font-weight="normal" fill="#000" xml:space="preserve">00</text>
<text transform="translate(431.20,516.00) scale(1.1314,1)" font-family='"Liberation Sans", "DejaVu Sans", sans-serif' font-size="15.6" font-weight="normal" fill="#000" xml:space="preserve">01</text>
<text transform="translate(431.21,529.00) scale(1.1099,1)" font-family='"Liberation Sans", "DejaVu Sans", sans-serif' font-size="15.6" font-weight="normal" fill="#000" xml:space="preserve">04</text>
<text transform="translate(503.34,516.00) scale(1.1260,1)" font-family='"Liberation Sans", "DejaVu Sans", sans-serif' font-size="15.6" font-weight="normal" fill="#000" xml:space="preserve">05</text>
<text transform="translate(503.34,529.00) scale(1.1260,1)" font-family='"Liberation Sans", "DejaVu Sans", sans-serif' font-size="15.6" font-weight="normal" fill="#000" xml:space="preserve">08</text>
<text transform="translate(575.48,516.00) scale(1.1314,1)" font-family='"Liberation Sans", "DejaVu Sans", sans-serif' font-size="15.6" font-weight="normal" fill="#000" xml:space="preserve">09</text>
<text transform="translate(576.87,529.00) scale(1.0477,1)" font-family='"Liberation Sans", "DejaVu Sans", sans-serif' font-size="15.6" font-weight="normal" fill="#000" xml:space="preserve">12</text>
<text transform="translate(602.26,516.00) scale(0.9917,1)" font-family='"Liberation Sans", "DejaVu Sans", sans-serif' font-size="15.6" font-weight="normal" fill="#000" xml:space="preserve">31.01−01.02.2026</text>
<text transform="translate(602.26,529.00) scale(0.9917,1)" font-family='"Liberation Sans", "DejaVu Sans", sans-serif' font-size="15.6" font-weight="normal" fill="#000" xml:space="preserve">31.01−01.02.2026</text>
<text transform="translate(78.44,551.80) scale(1.0753,1)" font-family='"Liberation Serif", "DejaVu Serif", serif' font-size="17.0" font-weight="normal" fill="#000" stroke="#000" stroke-width="0.3" xml:space="preserve">Магнитное</text>
<text transform="translate(173.01,551.80) scale(1.12,1)" font-family='"Liberation Serif", "DejaVu Serif", serif' font-size="17.0" font-weight="normal" fill="#000" stroke="#000" stroke-width="0.3" xml:space="preserve" textLength="33.69" lengthAdjust="spacing">поле</text>
<text transform="translate(218.62,551.80) scale(1.0941,1)" font-family='"Liberation Serif", "DejaVu Serif", serif' font-size="17.0" font-weight="normal" fill="#000" stroke="#000" stroke-width="0.3" xml:space="preserve">и</text>
<text transform="translate(236.13,551.80) scale(1.12,1)" font-family='"Liberation Serif", "DejaVu Serif", serif' font-size="17.0" font-weight="normal" fill="#000" stroke="#000" stroke-width="0.3" xml:space="preserve" textLength="79.69" lengthAdjust="spacing">солнечный</text>
<text transform="translate(333.81,551.80) scale(1.12,1)" font-family='"Liberation Serif", "DejaVu Serif", serif' font-size="17.0" font-weight="normal" fill="#000" stroke="#000" stroke-width="0.3" xml:space="preserve" textLength="40.22" lengthAdjust="spacing">ветер</text>
<text transform="translate(385.82,551.80) scale(1.1158,1)" font-family='"Liberation Serif", "DejaVu Serif", serif' font-size="17.0" font-weight="normal" fill="#000" stroke="#000" stroke-width="0.3" xml:space="preserve">измерены</text>
<text transform="translate(472.54,551.80) scale(1.1023,1)" font-family='"Liberation Serif", "DejaVu Serif", serif' font-size="17.0" font-weight="normal" fill="#000" stroke="#000" stroke-width="0.3" xml:space="preserve">спутником</text>
<text transform="translate(564.23,551.80) scale(0.8059,1)" font-family='"Liberation Sans", "DejaVu Sans", sans-serif' font-size="16.6" font-weight="normal" fill="#000" xml:space="preserve">DSCOVR</text>
<text transform="translate(78.62,569.90) scale(1.1176,1)" font-family='"Liberation Serif", "DejaVu Serif", serif' font-size="17.0" font-weight="normal" fill="#000" stroke="#000" stroke-width="0.3" xml:space="preserve">и</text>
<text transform="translate(96.33,569.90) scale(1.1192,1)" font-family='"Liberation Serif", "DejaVu Serif", serif' font-size="17.0" font-weight="normal" fill="#000" stroke="#000" stroke-width="0.3" xml:space="preserve">сдвинуты</text>
<text transform="translate(181.51,569.90) scale(1.12,1)" font-family='"Liberation Serif", "DejaVu Serif", serif' font-size="17.0" font-weight="normal" fill="#000" stroke="#000" stroke-width="0.3" xml:space="preserve" textLength="55.92" lengthAdjust="spacing">вперед,</text>
<text transform="translate(251.41,569.90) scale(1.12,1)" font-family='"Liberation Serif", "DejaVu Serif", serif' font-size="17.0" font-weight="normal" fill="#000" stroke="#000" stroke-width="0.3" xml:space="preserve" textLength="70.34" lengthAdjust="spacing">учитывая</text>
<text transform="translate(337.91,569.90) scale(1.12,1)" font-family='"Liberation Serif", "DejaVu Serif", serif' font-size="17.0" font-weight="normal" fill="#000" stroke="#000" stroke-width="0.3" xml:space="preserve" textLength="125.47" lengthAdjust="spacing">распространение</text>
<text transform="translate(485.80,569.90) scale(0.9,1)" font-family='"Liberation Sans", "DejaVu Sans", sans-serif' font-size="16.6" font-weight="normal" fill="#000" xml:space="preserve" textLength="32.72" lengthAdjust="spacing">L1−</text>
<text transform="translate(516.35,569.90) scale(1.1139,1)" font-family='"Liberation Serif", "DejaVu Serif", serif' font-size="17.0" font-weight="normal" fill="#000" stroke="#000" stroke-width="0.3" xml:space="preserve">Земля</text>
<text y="613" font-family='"Liberation Serif", "DejaVu Serif", serif' font-size="36.6" font-weight="bold" fill="#111"><tspan x="77.40" textLength="26.03" lengthAdjust="spacingAndGlyphs">И</tspan><tspan x="94.05" textLength="21.60" lengthAdjust="spacingAndGlyphs">К</tspan><tspan x="115.79" textLength="26.24" lengthAdjust="spacingAndGlyphs">И</tspan></text>
<rect x="103.3" y="587" width="12.6" height="11.6" fill="#fff"/>
<circle cx="108.9" cy="593.9" r="5.3" fill="#111"/>
<line x1="106.4" y1="596.9" x2="111.6" y2="591" stroke="#aaa" stroke-width="1.5"/>
<text transform="translate(157.72,595.80) scale(1.12,1)" font-family='"Liberation Serif", "DejaVu Serif", serif' font-size="17.0" font-weight="normal" fill="#000" stroke="#000" stroke-width="0.3" xml:space="preserve" textLength="71.79" lengthAdjust="spacing">Институт</text>
<text transform="translate(248.21,595.80) scale(1.12,1)" font-family='"Liberation Serif", "DejaVu Serif", serif' font-size="17.0" font-weight="normal" fill="#000" stroke="#000" stroke-width="0.3" xml:space="preserve" textLength="101.05" lengthAdjust="spacing">космических</text>
<text transform="translate(370.11,595.80) scale(1.12,1)" font-family='"Liberation Serif", "DejaVu Serif", serif' font-size="17.0" font-weight="normal" fill="#000" stroke="#000" stroke-width="0.3" xml:space="preserve" textLength="112.74" lengthAdjust="spacing">исследований</text>
<text transform="translate(504.56,595.80) scale(1.0373,1)" font-family='"Liberation Serif", "DejaVu Serif", serif' font-size="17.0" font-weight="normal" fill="#000" stroke="#000" stroke-width="0.3" xml:space="preserve">РАН</text>
<text transform="translate(157.23,614.90) scale(0.9,1)" font-family='"Liberation Sans", "DejaVu Sans", sans-serif' font-size="16.6" font-weight="normal" fill="#000" xml:space="preserve" textLength="114.73" lengthAdjust="spacing">iki.cosmos.ru</text>
<text transform="translate(602.34,578.30) scale(1.12,1)" font-family='"Liberation Serif", "DejaVu Serif", serif' font-size="14.8" font-weight="normal" fill="#000" stroke="#000" stroke-width="0.3" xml:space="preserve" textLength="70.13" lengthAdjust="spacing">Обновлено</text>
<text transform="translate(687.75,578.30) scale(1.12,1)" font-family='"Liberation Serif", "DejaVu Serif", serif' font-size="14.8" font-weight="normal" fill="#000" stroke="#000" stroke-width="0.3" xml:space="preserve" textLength="11.37" lengthAdjust="spacing">в:</text>
<text transform="translate(602.10,596.90) scale(0.8366,1)" font-family='"Liberation Sans", "DejaVu Sans", sans-serif' font-size="14.3" font-weight="normal" fill="#000" xml:space="preserve">UT</text>
<text transform="translate(634.05,596.90) scale(0.9,1)" font-family='"Liberation Sans", "DejaVu Sans", sans-serif' font-size="14.3" font-weight="normal" fill="#000" xml:space="preserve" textLength="47.09" lengthAdjust="spacing">05:05,</text>
<text transform="translate(683.15,596.90) scale(0.9,1)" font-family='"Liberation Sans", "DejaVu Sans", sans-serif' font-size="14.3" font-weight="normal" fill="#000" xml:space="preserve" textLength="83.53" lengthAdjust="spacing">01.02.2026</text>
<text transform="translate(602.00,614.60) scale(0.8741,1)" font-family='"Liberation Sans", "DejaVu Sans", sans-serif' font-size="14.3" font-weight="normal" fill="#000" xml:space="preserve">MSK</text>
<text transform="translate(634.05,614.60) scale(0.9,1)" font-family='"Liberation Sans", "DejaVu Sans", sans-serif' font-size="14.3" font-weight="normal" fill="#000" xml:space="preserve" textLength="47.09" lengthAdjust="spacing">08:05,</text>
<text transform="translate(683.15,614.60) scale(0.9,1)" font-family='"Liberation Sans", "DejaVu Sans", sans-serif' font-size="14.3" font-weight="normal" fill="#000" xml:space="preserve" textLength="83.53" lengthAdjust="spacing">01.02.2026</text>
<line x1="594" y1="94.5" x2="622" y2="94.5" stroke="#0000ff" stroke-width="1" shape-rendering="crispEdges"/>
<rect x="593" y="92.0" width="7" height="5" fill="#0000ff" shape-rendering="crispEdges"/>
<rect x="616" y="92.0" width="7" height="5" fill="#0000ff" shape-rendering="crispEdges"/>
<text transform="translate(624.87,98.50) scale(0.9,1)" font-family='"Liberation Sans", "DejaVu Sans", sans-serif' font-size="14.3" font-weight="normal" fill="#000" xml:space="preserve" textLength="28.29" lengthAdjust="spacing">Dst,</text>
<text transform="translate(657.79,98.50) scale(1.12,1)" font-family='"Liberation Serif", "DejaVu Serif", serif' font-size="14.8" font-weight="normal" fill="#000" stroke="#000" stroke-width="0.3" xml:space="preserve" textLength="39.01" lengthAdjust="spacing">Киото</text>
<line x1="595" y1="121" x2="621" y2="121" stroke="#00ffff" stroke-width="1" shape-rendering="crispEdges"/>
<rect x="594" y="119.0" width="5" height="4" fill="#00ffff" shape-rendering="crispEdges"/>
<rect x="617" y="119.0" width="5" height="4" fill="#00ffff" shape-rendering="crispEdges"/>
<text transform="translate(625.59,124.60) scale(1.12,1)" font-family='"Liberation Serif", "DejaVu Serif", serif' font-size="14.8" font-weight="normal" fill="#000" stroke="#000" stroke-width="0.3" xml:space="preserve" textLength="117.63" lengthAdjust="spacing">Восстановленный</text>
<text transform="translate(624.87,143.80) scale(0.9,1)" font-family='"Liberation Sans", "DejaVu Sans", sans-serif' font-size="14.3" font-weight="normal" fill="#000" xml:space="preserve" textLength="22.74" lengthAdjust="spacing">Dst</text>
<line x1="594" y1="165.5" x2="621" y2="165.5" stroke="#0000ff" stroke-width="3" stroke-dasharray="2 3" shape-rendering="crispEdges"/>
<text transform="translate(625.49,168.80) scale(1.12,1)" font-family='"Liberation Serif", "DejaVu Serif", serif' font-size="14.8" font-weight="normal" fill="#000" stroke="#000" stroke-width="0.3" xml:space="preserve" textLength="53.67" lengthAdjust="spacing">Прогноз</text>
<text transform="translate(691.97,168.80) scale(0.9,1)" font-family='"Liberation Sans", "DejaVu Sans", sans-serif' font-size="14.3" font-weight="normal" fill="#000" xml:space="preserve" textLength="21.96" lengthAdjust="spacing">Dst</text>
<text transform="translate(625.65,186.50) scale(1.1177,1)" font-family='"Liberation Serif", "DejaVu Serif", serif' font-size="14.8" font-weight="normal" fill="#000" stroke="#000" stroke-width="0.3" xml:space="preserve">на</text>
<text transform="translate(648.94,186.50) scale(1.12,1)" font-family='"Liberation Serif", "DejaVu Serif", serif' font-size="14.8" font-weight="normal" fill="#000" stroke="#000" stroke-width="0.3" xml:space="preserve" textLength="25.46" lengthAdjust="spacing">2−4</text>
<text transform="translate(684.25,186.50) scale(1.12,1)" font-family='"Liberation Serif", "DejaVu Serif", serif' font-size="14.8" font-weight="normal" fill="#000" stroke="#000" stroke-width="0.3" xml:space="preserve" textLength="29.10" lengthAdjust="spacing">часа</text>
<line x1="593" y1="209" x2="622" y2="209" stroke="#ff0000" stroke-width="2" shape-rendering="crispEdges"/>
<text transform="translate(625.49,213.50) scale(1.12,1)" font-family='"Liberation Serif", "DejaVu Serif", serif' font-size="14.8" font-weight="normal" fill="#000" stroke="#000" stroke-width="0.3" xml:space="preserve" textLength="53.67" lengthAdjust="spacing">Прогноз</text>
<text transform="translate(625.32,231.60) scale(1.12,1)" font-family='"Liberation Serif", "DejaVu Serif", serif' font-size="14.8" font-weight="normal" fill="#000" stroke="#000" stroke-width="0.3" xml:space="preserve" textLength="33.16" lengthAdjust="spacing">силы</text>
<text transform="translate(669.25,231.60) scale(1.12,1)" font-family='"Liberation Serif", "DejaVu Serif", serif' font-size="14.8" font-weight="normal" fill="#000" stroke="#000" stroke-width="0.3" xml:space="preserve" textLength="30.61" lengthAdjust="spacing">бури</text>
<text transform="translate(625.13,249.80) scale(0.9,1)" font-family='"Liberation Sans", "DejaVu Sans", sans-serif' font-size="14.3" font-weight="normal" fill="#000" xml:space="preserve" textLength="31.73" lengthAdjust="spacing">(min</text>
<text transform="translate(661.77,249.80) scale(0.9,1)" font-family='"Liberation Sans", "DejaVu Sans", sans-serif' font-size="14.3" font-weight="normal" fill="#000" xml:space="preserve" textLength="29.31" lengthAdjust="spacing">Dst)</text>
<line x1="594" y1="334.5" x2="622" y2="334.5" stroke="#00ff00" stroke-width="1" shape-rendering="crispEdges"/>
<rect x="593" y="332.5" width="5" height="4" fill="#00ff00" shape-rendering="crispEdges"/>
<rect x="618" y="332.5" width="5" height="4" fill="#00ff00" shape-rendering="crispEdges"/>
<text transform="translate(625.97,343.80) scale(0.9,1)" font-family='"Liberation Sans", "DejaVu Sans", sans-serif' font-size="14.3" font-weight="normal" fill="#000" xml:space="preserve" textLength="17.68" lengthAdjust="spacing">Bz</text>
<text transform="translate(648.73,343.80) scale(0.9,1)" font-family='"Liberation Sans", "DejaVu Sans", sans-serif' font-size="14.3" font-weight="normal" fill="#000" xml:space="preserve" textLength="27.67" lengthAdjust="spacing">(nT,</text>
<text transform="translate(679.86,343.80) scale(0.8941,1)" font-family='"Liberation Sans", "DejaVu Sans", sans-serif' font-size="14.3" font-weight="normal" fill="#000" xml:space="preserve">GSM)</text>
<line x1="594" y1="419.5" x2="622" y2="419.5" stroke="#000000" stroke-width="1" shape-rendering="crispEdges"/>
<rect x="593" y="417.5" width="5" height="4" fill="#000000" shape-rendering="crispEdges"/>
<rect x="618" y="417.5" width="5" height="4" fill="#000000" shape-rendering="crispEdges"/>
<text transform="translate(626.30,425.00) scale(0.8623,1)" font-family='"Liberation Sans", "DejaVu Sans", sans-serif' font-size="14.3" font-weight="normal" fill="#000" xml:space="preserve">V</text>
<text transform="translate(641.23,425.00) scale(0.9,1)" font-family='"Liberation Sans", "DejaVu Sans", sans-serif' font-size="14.3" font-weight="normal" fill="#000" xml:space="preserve" textLength="52.24" lengthAdjust="spacing">(km/s)</text>
</svg>
</body>
</html>
